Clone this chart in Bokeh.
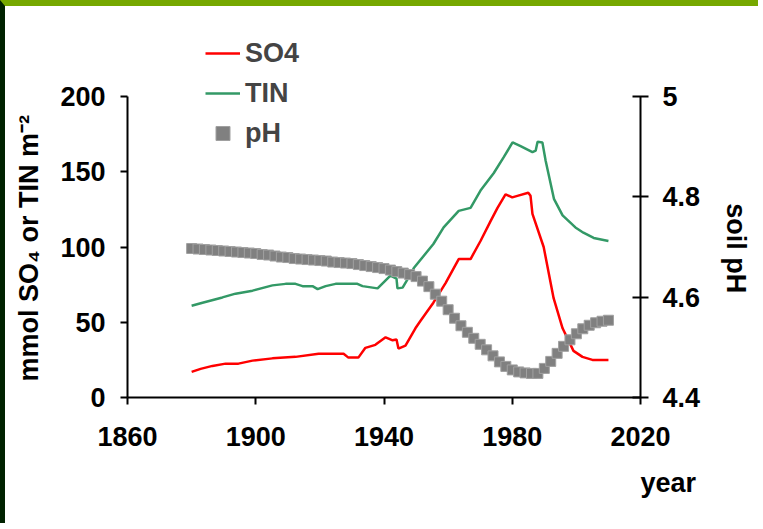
from bokeh.plotting import figure
from bokeh.models import Range1d, LinearAxis, FixedTicker, Legend, LegendItem
from bokeh.embed import file_html
from bokeh.resources import INLINE

# ---------------- data ----------------
so4_year = [1880, 1882.8, 1886.5, 1890.6, 1894.6, 1899, 1905.2, 1912.4, 1919.6, 1927.4,
            1928.9, 1932, 1934.2, 1937.3, 1940.5, 1942.7, 1943.9, 1944.5, 1946.7, 1949.8,
            1951.4, 1955.4, 1959.2, 1963.3, 1967, 1970.1, 1973.2, 1975.4, 1977.9, 1980,
            1981.6, 1985, 1985.7, 1986.3, 1989.8, 1992.9, 1995.7, 1999.1, 2001.9, 2005, 2010]
so4 = [17, 19, 21, 22.5, 22.5, 24.5, 26, 27, 29, 29,
       26.5, 26.5, 33, 35, 40, 38, 38.5, 32.5, 34.5, 46,
       51, 63, 76, 92, 92, 104, 117, 126, 135, 133,
       134, 136, 134, 122, 100, 66, 46, 31, 27, 25, 25]

tin_year = [1880, 1883.4, 1889.6, 1893.7, 1899, 1905.2, 1909.3, 1912.4, 1914.6, 1917.7,
            1919.3, 1921.8, 1924.9, 1931.7, 1933.3, 1938, 1942, 1943.9, 1944.2, 1945.8,
            1948.3, 1949.3, 1955.4, 1958.6, 1963.3, 1967, 1970.1, 1974.2, 1977.3, 1980.1,
            1982.6, 1986.3, 1987.3, 1987.9, 1989.4, 1990.4, 1993, 1995.7, 1999.7, 2002.2,
            2005.4, 2010]
tin = [61, 63, 66.5, 69, 71, 74.5, 75.5, 75.5, 74, 74,
       72, 74, 75.5, 75.5, 74, 72.5, 81, 79, 72.5, 73,
       82, 86, 102, 113, 124, 126, 137.5, 149, 159.5, 169.5,
       167, 163, 164, 170, 169.5, 157.5, 132, 121, 113, 109.5,
       106, 104]

ph_year = list(range(1880, 2011, 2))
ph = [4.697, 4.696, 4.695, 4.694, 4.693, 4.692, 4.691, 4.690, 4.689, 4.688,
      4.687, 4.685, 4.684, 4.682, 4.680, 4.679, 4.677, 4.676, 4.675, 4.674,
      4.673, 4.672, 4.670, 4.669, 4.668, 4.667, 4.665, 4.663, 4.661, 4.659,
      4.657, 4.654, 4.651, 4.648, 4.645, 4.641, 4.632, 4.621, 4.606, 4.592,
      4.575, 4.558, 4.543, 4.530, 4.518, 4.506, 4.495, 4.483, 4.471, 4.462,
      4.455, 4.451, 4.449, 4.448, 4.448, 4.458, 4.472, 4.488, 4.502, 4.515,
      4.527, 4.537, 4.544, 4.549, 4.552, 4.554]

x_ticks = [1860, 1900, 1940, 1980, 2020]
left_ticks = [0, 50, 100, 150, 200]
right_ticks = [4.4, 4.6, 4.8, 5.0]
left_lim = (0, 200)
right_lim = (4.4, 5.0)

left_title = "mmol SO\u2084 or TIN m\u207b\u00b2"
right_title = "soil pH"
x_title = "year"

FONT = "Liberation Sans"
FS = "27px"
PAD = "\u00a0" * 11   # keeps the side titles centred on the drawn axes, not on the taller frame

# ---------------- layout geometry (canvas pixels) ----------------
W, H = 758, 523            # canvas; css borders add 5px left, 6px top
B_LEFT, B_RIGHT, B_TOP, B_BOTTOM = 122, 123, 10, 132
AXIS_PX = 301              # pixel height of the drawn axes
frame_h = H - B_TOP - B_BOTTOM
y_top = left_lim[0] + (left_lim[1] - left_lim[0]) * frame_h / AXIS_PX
ph_top = right_lim[0] + (right_lim[1] - right_lim[0]) * frame_h / AXIS_PX

p = figure(width=W, height=H, output_backend="svg", toolbar_location=None,
           x_range=Range1d(1860, 2020), y_range=Range1d(left_lim[0], y_top),
           min_border_left=B_LEFT, min_border_right=B_RIGHT,
           min_border_top=B_TOP, min_border_bottom=B_BOTTOM,
           title=x_title, title_location="below")
p.styles = {"border-top": "6px solid #76a800", "border-left": "5px solid #002200"}
p.background_fill_color = "white"
p.border_fill_color = "white"
p.outline_line_color = None
p.xgrid.visible = False
p.ygrid.visible = False
p.extra_y_ranges = {"ph": Range1d(right_lim[0], ph_top)}

p.title.align = "left"
p.title.offset = 513
p.title.text_font = FONT
p.title.text_font_style = "bold"
p.title.text_font_size = FS
p.title.text_color = "black"
p.title.standoff = 34


def style_axis(ax):
    ax.axis_line_width = 2
    ax.axis_line_color = "black"
    ax.major_tick_line_width = 2
    ax.major_tick_line_color = "black"
    ax.minor_tick_line_color = None
    ax.major_label_text_font = FONT
    ax.major_label_text_font_style = "bold"
    ax.major_label_text_font_size = FS
    ax.major_label_text_color = "black"
    ax.axis_label_text_font = FONT
    ax.axis_label_text_font_style = "bold"
    ax.axis_label_text_font_size = FS
    ax.axis_label_text_color = "black"


xa = p.xaxis[0]
style_axis(xa)
xa.ticker = FixedTicker(ticks=x_ticks)
xa.major_tick_in = 0
xa.major_tick_out = 7
xa.major_label_standoff = 22

ya = p.yaxis[0]
style_axis(ya)
ya.ticker = FixedTicker(ticks=left_ticks)
ya.bounds = left_lim
ya.major_tick_in = 0
ya.major_tick_out = 7
ya.major_label_standoff = 15
ya.axis_label = left_title + PAD
ya.axis_label_standoff = 13

ra = LinearAxis(y_range_name="ph")
style_axis(ra)
ra.ticker = FixedTicker(ticks=right_ticks)
ra.bounds = right_lim
ra.major_label_overrides = {5.0: "5"}
ra.major_tick_in = 8
ra.major_tick_out = 8
ra.major_label_standoff = 14
ra.axis_label = PAD + right_title
ra.axis_label_standoff = 18
p.add_layout(ra, "right")

r_so4 = p.line(so4_year, so4, line_color="#ff0000", line_width=2.5)
r_tin = p.line(tin_year, tin, line_color="#339966", line_width=2.5)
r_ph = p.scatter(ph_year, ph, y_range_name="ph", marker="square", size=10,
                 fill_color="#808080", line_color="#a0a0a0", line_width=1)

legend = Legend(items=[LegendItem(label="SO4", renderers=[r_so4]),
                       LegendItem(label="TIN", renderers=[r_tin]),
                       LegendItem(label="pH", renderers=[r_ph])],
                location=(78, 246))
legend.label_text_font = FONT
legend.label_text_font_style = "bold"
legend.label_text_font_size = FS
legend.glyph_width = 35
legend.glyph_height = 36
legend.label_height = 36
legend.spacing = 4
legend.padding = 0
legend.margin = 0
legend.label_standoff = 5
legend.border_line_color = None
legend.background_fill_alpha = 0
p.add_layout(legend, "center")

open("out.html", "w").write(file_html(p, INLINE))
